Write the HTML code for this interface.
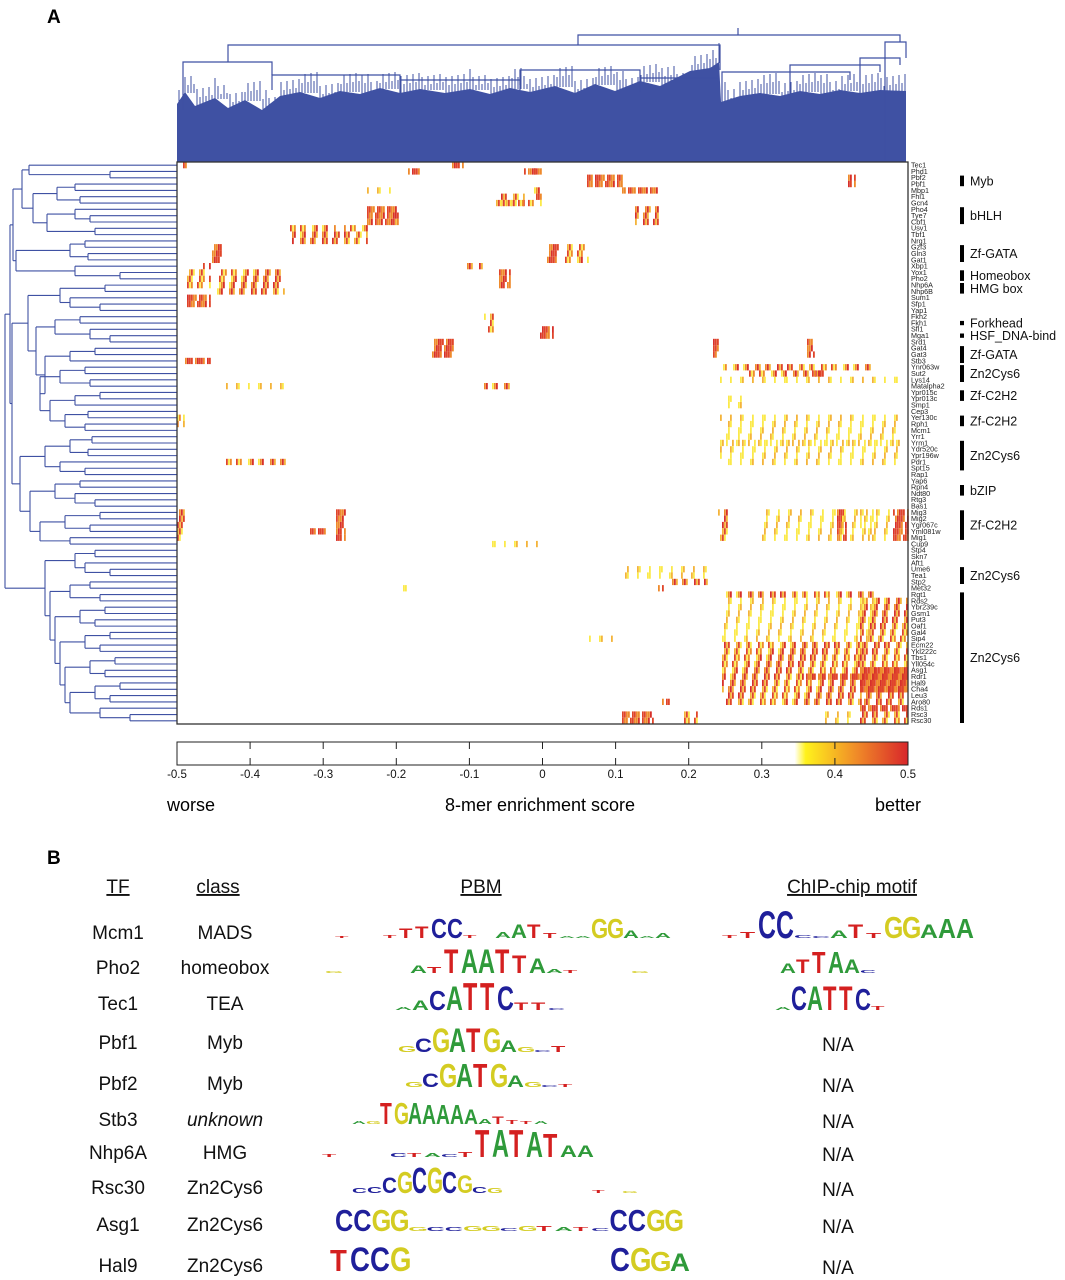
<!DOCTYPE html>
<html><head><meta charset="utf-8">
<style>
body{margin:0;background:#fff;}
svg{display:block;font-family:"Liberation Sans",Arial,sans-serif;}
</style></head>
<body>
<svg id="fig" width="1065" height="1280" viewBox="0 0 1065 1280" xmlns="http://www.w3.org/2000/svg">
<defs>
<linearGradient id="cbgrad" x1="0" x2="1" y1="0" y2="0">
<stop offset="0" stop-color="#ffffff"/><stop offset="0.845" stop-color="#ffffff"/>
<stop offset="0.86" stop-color="#fff21c"/><stop offset="0.93" stop-color="#f08a28"/><stop offset="1" stop-color="#d8262a"/>
</linearGradient>
</defs>
<text x="47" y="23" font-size="19" font-weight="bold">A</text>
<text x="47" y="864" font-size="19" font-weight="bold">B</text>
<g id="topdendro"></g>
<g id="leftdendro"></g>
<g id="heat"></g>
<rect x="177" y="162" width="731" height="562" fill="none" stroke="#333" stroke-width="1.3"/>
<g id="rowlabels"></g>
<g id="groups"></g>
<g id="colorbar">
<rect x="177" y="742" width="731" height="23" fill="url(#cbgrad)" stroke="#222" stroke-width="1"/>
</g>
<text x="167" y="811" font-size="18">worse</text>
<text x="540" y="811" font-size="18" text-anchor="middle">8-mer enrichment score</text>
<text x="875" y="811" font-size="18">better</text>
<g id="panelb"></g>
</svg>
<script>
const NS="http://www.w3.org/2000/svg";
function mk(tag,attrs,parent){const e=document.createElementNS(NS,tag);for(const k in attrs)e.setAttribute(k,attrs[k]);parent.appendChild(e);return e;}

// ---------- heatmap data ----------
const rowNames=["Tec1","Phd1","Pbf2","Pbf1","Mbp1","Fhl1","Gcn4","Pho4","Tye7","Cbf1","Usv1","Tbf1","Nrg1","Gzf3","Gln3","Gat1","Xbp1","Yox1","Pho2","Nhp6A","Nhp6B","Sum1","Sfp1","Yap1","Fkh2","Fkh1","Sfl1","Mga1","Srd1","Gat4","Gat3","Stb3","Ynr063w","Sut2","Lys14","Matalpha2","Ypr015c","Ypr013c","Smp1","Cep3","Yer130c","Rph1","Mcm1","Yrr1","Yrm1","Ydr520c","Ypr196w","Pdr1","Spt15","Rap1","Yap6","Rpn4","Ndt80","Rtg3","Bas1","Mig3","Mig2","Ygr067c","Yml081w","Mig1","Cup9","Stp4","Skn7","Aft1","Ume6","Tea1","Stp2","Met32","Rgt1","Rds2","Ybr239c","Gsm1","Put3","Oaf1","Gal4","Sip4","Ecm22","Ykl222c","Tbs1","Yll054c","Asg1","Rdr1","Hal9","Cha4","Leu3","Aro80","Rds1","Rsc3","Rsc30"];
const nCols=731;
// enriched blocks: first row, last row, first 8-mer column, last column, level
const blockRow0=[0,0,1,1,1,4,4,5,5,6,7,7,10,10,11,13,13,16,16,16,17,17,17,21,24,28,31,35,35,40,40,2,2,4,7,13,37,26,28,28,32,33,33,34,40,44,55,55,55,55,55,64,66,67,68,69,69,76,76,80,80,81,85,86,87,87,87,87,47,55,55,58,60,67,75];
const blockRow1=[0,0,1,1,1,4,4,5,6,6,9,9,10,10,12,15,15,16,16,16,20,19,19,22,26,30,31,35,35,41,41,3,3,4,9,15,38,27,30,30,32,33,33,34,44,47,59,59,59,59,59,65,66,67,68,75,75,85,85,83,83,81,85,86,88,88,88,88,47,59,59,58,60,67,75];
const blockCol0=[6,275,231,347,357,190,357,357,320,313,190,218,113,167,115,35,370,290,26,426,38,322,8,8,307,255,8,47,307,0,0,410,671,445,458,386,545,363,536,630,546,570,635,543,543,543,716,660,541,581,683,446,493,481,543,683,543,545,683,683,683,625,485,683,445,503,646,683,43,0,159,133,313,222,410];
const blockCol1=[9,285,243,360,363,220,363,363,347,363,220,218,157,190,190,43,380,305,33,376,107,333,33,33,315,275,33,107,336,7,7,444,678,481,481,410,563,376,540,636,696,645,645,726,723,726,730,668,550,713,696,530,530,485,696,730,696,683,730,730,730,730,491,730,476,520,673,730,107,8,167,147,360,230,440];
const blockLevel=[3,3,3,3,3,1,2,3,2,2,3,2,2,2,2,3,3,2,2,2,2,3,2,3,2,3,3,1,2,2,1,3,3,3,2,2,1,3,3,3,2,2,3,1,1,1,3,3,2,1,1,1,2,3,2,2,1,2,2,3,3,3,3,3,3,2,1,2,2,2,3,3,1,1,1];
// rendering texture: share of 8-mer columns shown per level, palette
const levelDensity=[0,3,6,9];
const palette=["#fbe94a","#f4b43a","#ee8a2c","#e0452a","#d7302a"];

const HX0=177,HY0=162,HW=731,HH=562;
const rowH=HH/rowNames.length;
function xScale(c){return HX0+c/nCols*HW;}
function yScale(r){return HY0+r*rowH;}

const heat=document.getElementById('heat');
for(let i=0;i<blockRow0.length;i++){
  const lv=blockLevel[i];
  for(let r=blockRow0[i];r<=blockRow1[i];r++){
    const y0=yScale(r);
    for(let c=blockCol0[i];c<=blockCol1[i];c+=2){
      const h=(c*7919+r*131+i*17)%11;
      if(h>=levelDensity[lv])continue;
      const h2=(c*31+r*7)%5;
      let ci;
      if(lv===3) ci=2+ (h2%3);
      else if(lv===2) ci=h2;
      else ci=h2<3?0:1;
      const x0=xScale(c);
      const rc=mk('rect',{x:x0.toFixed(1),y:y0.toFixed(1),width:1.8,height:rowH.toFixed(2),fill:palette[ci]},heat);
      
      
    }
  }
}

// row labels
const rl=document.getElementById('rowlabels');
rowNames.forEach((n,i)=>{
  const t=mk('text',{x:911,y:(yScale(i)+rowH/2+2.4).toFixed(1),'font-size':7.2,fill:'#222'},rl);
  t.textContent=n;
  
  
});

// group annotations
const groupNames=["Myb","bHLH","Zf-GATA","Homeobox","HMG box","Forkhead","HSF_DNA-bind","Zf-GATA","Zn2Cys6","Zf-C2H2","Zf-C2H2","Zn2Cys6","bZIP","Zf-C2H2","Zn2Cys6","Zn2Cys6"];
const groupStart=[2,7,13,17,19,25,27,29,32,36,40,44,51,55,64,68];
const groupEnd=[3,9,15,18,20,25,27,31,34,37,41,48,52,59,66,88];
const gg=document.getElementById('groups');
groupNames.forEach((n,i)=>{
  const y0=yScale(groupStart[i])+1,y1=yScale(groupEnd[i]+1)-1;
  const b=mk('rect',{x:960,y:y0.toFixed(1),width:4,height:(y1-y0).toFixed(1),fill:'#000'},gg);
  
  
  const t=mk('text',{x:970,y:((y0+y1)/2+4.5).toFixed(1),'font-size':12.5,fill:'#111'},gg);
  t.textContent=n;
  
  
});

// colorbar ticks
const tickVals=[-0.5,-0.4,-0.3,-0.2,-0.1,0,0.1,0.2,0.3,0.4,0.5];
const tickLabels=["-0.5","-0.4","-0.3","-0.2","-0.1","0","0.1","0.2","0.3","0.4","0.5"];
const cb=document.getElementById('colorbar');
function cbX(v){return 177+(v+0.5)*731;}
tickVals.forEach((v,i)=>{
  const x=cbX(v);
  if(i>0&&i<tickVals.length-1){
    mk('line',{x1:x,x2:x,y1:742,y2:749,stroke:'#222','stroke-width':1},cb);
    mk('line',{x1:x,x2:x,y1:758,y2:765,stroke:'#222','stroke-width':1},cb);
  }
  const t=mk('text',{x:x,y:778,'font-size':11.5,'text-anchor':'middle',fill:'#111'},cb);
  t.textContent=tickLabels[i];
  
  
});

// ---------- column dendrogram ----------
const td=document.getElementById('topdendro');
const BLUE="#3f51a3";
const topProfile=[[177,104],[185,92],[195,106],[215,98],[228,108],[245,100],[262,110],[280,96],[300,92],[320,98],[340,91],[360,94],[380,88],[400,93],[420,89],[445,93],[470,89],[490,94],[510,88],[530,92],[555,86],[575,93],[595,84],[615,91],[640,81],[660,86],[690,71],[710,68],[719,62],[721,102],[740,96],[760,93],[780,96],[800,91],[820,94],[840,90],[860,93],[880,90],[906,91]];
let pd="M177,162 ";topProfile.forEach(p=>pd+="L"+p[0]+","+p[1]+" ");pd+="L906,162 Z";
mk('path',{d:pd,fill:BLUE},td);
for(let x=179;x<906;x+=3){
  let top=100;for(let k=0;k<topProfile.length-1;k++){if(x>=topProfile[k][0]&&x<topProfile[k+1][0]){top=topProfile[k][1];}}
  const h=((x*37)%17)+4;
  mk('line',{x1:x,x2:x,y1:top-h,y2:top+1,stroke:BLUE,'stroke-width':1},td);
}
const topLinks=[[578,900,35,45,42],[228,720,45,62,70],[183,272,62,110,75],[272,400,75,90,80],[400,520,80,95,85],[520,640,70,90,78],[640,718,78,92,75],[885,906,42,160,58],[860,900,58,95,65],[790,880,65,98,72],[722,850,72,105,80],[738,738,28,35,35]];
topLinks.forEach(l=>{
  mk('path',{d:`M${l[0]},${l[3]} V${l[2]} H${l[1]} V${l[4]}`,fill:'none',stroke:BLUE,'stroke-width':1.2},td);
});

// ---------- row dendrogram ----------
const rowTree=[5,
 [10,
  [13,[22,[29,0,[110,1,2]],[33,[57,[75,3,4],[80,5,6]],[47,[75,7,[90,8,9]],[95,10,11]]]],
      [16,[70,[85,12,13],[88,14,15]],[75,16,[120,17,18]]]],
  [12,
   [28,[60,[105,19,20],[70,21,[100,22,23]]],[36,[55,[80,24,25],[90,26,[110,27,28]]],[45,[70,[95,29,30],31],[40,[60,[85,32,33],[90,34,35]],[50,[75,[100,36,37],38],[65,[88,39,40],[85,41,42]]]]]]],
   [20,[45,[70,[92,43,44],[88,45,46]],[60,47,[85,48,49]]],[30,[55,[80,50,51],[75,52,[95,53,54]]],[40,[65,[100,55,56],[90,57,58]],[70,59,60]]]]]],
 [45,[75,[95,61,62],[85,63,[110,64,65]]],[50,[70,[90,66,67],[100,68,69]],[55,[80,[105,70,71],[95,72,73]],[60,[85,[110,74,75],[100,76,77]],[65,[90,[115,78,79],[105,80,81]],[70,[95,[120,82,83],[110,84,85]],[100,86,[130,87,88]]]]]]]]];
const ld=document.getElementById('leftdendro');
function drawNode(n){
  if(typeof n==="number"){return {x:HX0,y:yScale(n)+rowH/2};}
  const kids=n.slice(1).map(drawNode);
  const x=n[0];
  const ys=kids.map(k=>k.y);
  const y0=Math.min(...ys),y1=Math.max(...ys);
  mk('line',{x1:x,x2:x,y1:y0,y2:y1,stroke:BLUE,'stroke-width':1.1},ld);
  kids.forEach(k=>mk('line',{x1:x,x2:k.x,y1:k.y,y2:k.y,stroke:BLUE,'stroke-width':1.1},ld));
  return {x:x,y:(y0+y1)/2};
}
drawNode(rowTree);

// ---------- panel B ----------
const pb=document.getElementById('panelb');
const LC={A:"#2f9a3a",C:"#1f1f9a",G:"#d4cc22",T:"#d42020"};
function txt(s,x,y,size,opts){const t=mk('text',Object.assign({x:x,y:y,'font-size':size,fill:'#111'},opts||{}),pb);t.textContent=s;return t;}
const hdr=[["TF",118],["class",218],["PBM",481],["ChIP-chip motif",852]];
hdr.forEach(h=>{const t=txt(h[0],h[1],893,19,{'text-anchor':'middle','text-decoration':'underline'});});
const tfNames=["Mcm1","Pho2","Tec1","Pbf1","Pbf2","Stb3","Nhp6A","Rsc30","Asg1","Hal9"];
const tfClass=["MADS","homeobox","TEA","Myb","Myb","unknown","HMG","Zn2Cys6","Zn2Cys6","Zn2Cys6"];
const rowBase=[939,974,1010,1049,1090,1126,1159,1194,1231,1272];
const logoBase=[938,973,1010,1052,1087,1124,1157,1193,1231,1271];
const pbmStart=[335,325,395,398,405,352,322,352,335,330];
const pbmColW=[16,17,17,17,17,14,17,15,18.3,20];
const pbmCols=[
 "T2 _ _ T3 T10 T12 C20 C20 T3 _ A6 A14 T14 T5 A2 A2 G20 G20 A8 A2 A5",
 "G2 _ _ _ _ A8 T6 T25 A25 A25 T25 T18 A15 A4 T3 _ _ _ G2",
 "A3 A10 C20 A25 T28 T28 C25 T8 T8 C2",
 "G6 C14 G25 A25 T25 G25 A12 G5 C2 T6",
 "G5 C14 G24 A24 T24 G24 A12 G5 C2 T3",
 "A3 G3 T22 G22 A22 A20 A20 A20 A15 A5 T8 T4 T3 A3",
 "T3 _ _ _ C4 T4 A4 C3 T5 T28 A28 T28 A26 T24 A12 A12",
 "C5 C6 C16 G22 C26 G26 C22 G18 C6 G5 _ _ _ _ _ _ T3 _ G2",
 "C22 C22 G22 G22 G4 C4 C4 G5 G5 C3 G5 T5 A4 T4 C3 C22 C22 G22 G22",
 "T22 C25 C25 G25 _ _ _ _ _ _ _ _ _ _ C24 G24 G20 A18"];
const chipStart=[722,780,775];
const chipColW=[18,16,16];
const chipCols=[
 "T3 T6 C28 C28 C3 C2 A8 T14 T5 G22 G22 A14 A20 A20",
 "A10 T14 T22 A22 A14 C3",
 "A3 C25 A25 T25 T25 C22 T4"];
function drawLogo(spec,x0,w,base,name){
  const g=mk('g',{},pb);
  
  
  spec.split(" ").forEach((c,i)=>{
    if(c==="_")return;
    const L=c[0],h=parseFloat(c.slice(1));
    const x=x0+i*w;
    const sx=w/14.5,sy=h/14.4;
    const t=mk('text',{'font-size':20,'font-weight':'bold',fill:LC[L],transform:`translate(${x.toFixed(1)},${base}) scale(${sx.toFixed(3)},${sy.toFixed(3)})`},g);
    t.textContent=L;
  });
}
tfNames.forEach((n,i)=>{
  const a=txt(n,118,rowBase[i],19,{'text-anchor':'middle'});
  
  
  const b=txt(tfClass[i],225,rowBase[i],19,{'text-anchor':'middle','font-style':tfClass[i]==="unknown"?"italic":"normal"});
  
  
  drawLogo(pbmCols[i],pbmStart[i],pbmColW[i],logoBase[i],'pbm-logo');
  if(i<3){drawLogo(chipCols[i],chipStart[i],chipColW[i],logoBase[i],'chip-logo');}
  else{const c=txt("N/A",838,rowBase[i]+2,19,{'text-anchor':'middle'});}
});
</script>
</body></html>
